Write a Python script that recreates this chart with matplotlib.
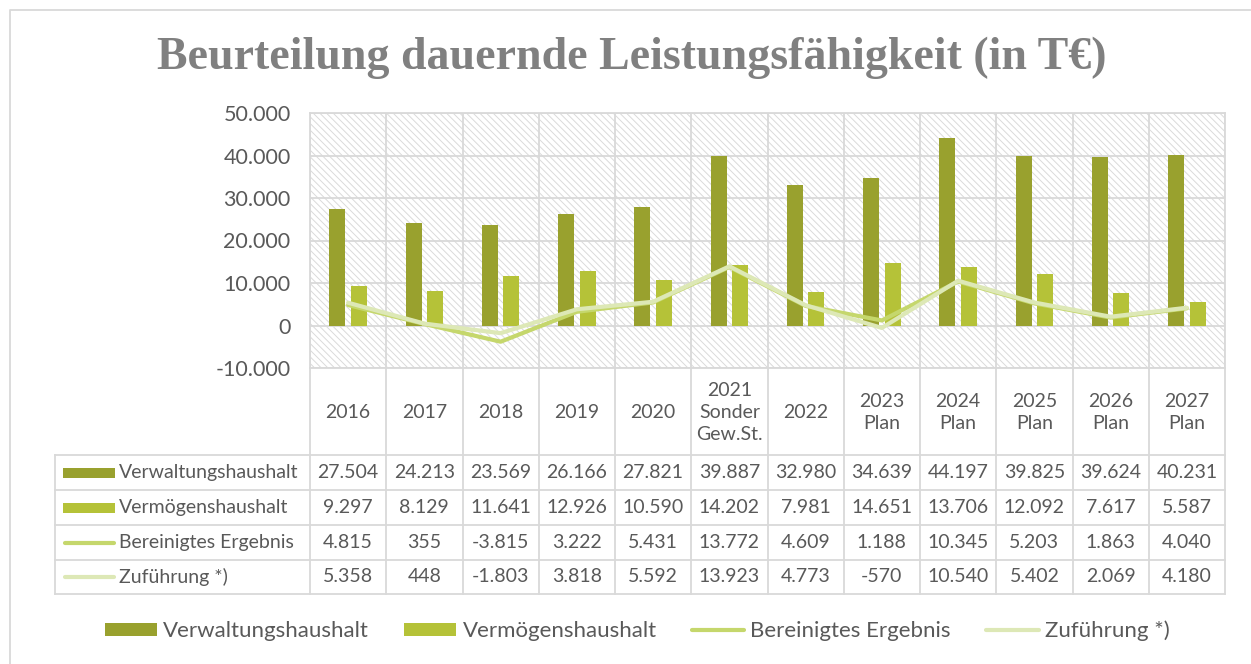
import matplotlib
matplotlib.use("Agg")
import matplotlib.pyplot as plt
from matplotlib.patches import Rectangle
from matplotlib.lines import Line2D

# ---------------- data ----------------
categories = ["2016", "2017", "2018", "2019", "2020", "2021\nSonder\nGew.St.", "2022",
              "2023\nPlan", "2024\nPlan", "2025\nPlan", "2026\nPlan", "2027\nPlan"]
verwaltung = [27504, 24213, 23569, 26166, 27821, 39887, 32980, 34639, 44197, 39825, 39624, 40231]
vermoegen = [9297, 8129, 11641, 12926, 10590, 14202, 7981, 14651, 13706, 12092, 7617, 5587]
bereinigt = [4815, 355, -3815, 3222, 5431, 13772, 4609, 1188, 10345, 5203, 1863, 4040]
zufuehrung = [5358, 448, -1803, 3818, 5592, 13923, 4773, -570, 10540, 5402, 2069, 4180]
series_names = ["Verwaltungshaushalt", "Vermögenshaushalt", "Bereinigtes Ergebnis", "Zuführung *)"]
yticks = [-10000, 0, 10000, 20000, 30000, 40000, 50000]
title = "Beurteilung dauernde Leistungsfähigkeit (in T€)"

# ---------------- style ----------------
C_VERW = "#99A12E"
C_VERM = "#B5C238"
C_BER = "#C5D76C"
C_ZUF = "#DDE8B6"
GRID = "#D9D9D9"
TXT = "#595959"
FONT = "Lato"

plt.rcParams["hatch.linewidth"] = 0.7

W, H = 1251, 664
fig = plt.figure(figsize=(W / 100, H / 100), dpi=100)
fig.patch.set_facecolor("white")


def fx(px):
    return px / W


def fy(py):
    return 1 - py / H


PL, PR, PT, PB = 310, 1225, 113, 368
ax = fig.add_axes([fx(PL), fy(PB), (PR - PL) / W, (PB - PT) / H])
n = len(categories)
x = list(range(n))

ax.set_xlim(-0.5, n - 0.5)
ax.set_ylim(-10000, 50000)

# hatched background
bg = Rectangle((0, 0), 1, 1, transform=ax.transAxes, facecolor="white",
               edgecolor="#DADADA", hatch="\\" * 5, linewidth=0, zorder=0)
ax.add_patch(bg)

# grid
for yt in yticks:
    ax.axhline(yt, color=GRID, lw=1.3, zorder=1)
for i in range(n + 1):
    ax.axvline(i - 0.5, color=GRID, lw=1.3, zorder=1)

bw = 0.21
off = 0.14
ax.bar([v - off for v in x], verwaltung, width=bw, color=C_VERW, zorder=3)
ax.bar([v + off for v in x], vermoegen, width=bw, color=C_VERM, zorder=3)
ax.plot(x, bereinigt, color=C_BER, lw=3.0, zorder=4, solid_capstyle="round")
ax.plot(x, zufuehrung, color=C_ZUF, lw=3.0, zorder=5, solid_capstyle="round")

ax.set_xticks([])
ax.set_yticks(yticks)
ax.set_yticklabels([f"{v:,}".replace(",", ".") for v in yticks], fontsize=15.5,
                   color=TXT, family=FONT)
ax.tick_params(axis="y", length=0, pad=14)
for s in ax.spines.values():
    s.set_color(GRID)
    s.set_linewidth(1.3)

# ---------------- overlay (table, title, border) ----------------
ov = fig.add_axes([0, 0, 1, 1], zorder=10)
ov.set_xlim(0, W)
ov.set_ylim(H, 0)
ov.axis("off")
ov.patch.set_visible(False)

# outer border (left and top)
ov.plot([10, 10, W], [H, 10, 10], color=GRID, lw=1.3)

ov.text(632, 58, title, ha="center", va="center", fontsize=33,
        fontweight="bold", color="#808080", family="Liberation Serif")

col_w = (PR - PL) / n
row_lines = [455, 490, 525, 560, 594]
TL = 55
for ry in row_lines:
    ov.plot([TL, PR], [ry, ry], color=GRID, lw=1.3)
for i in range(n + 1):
    ov.plot([PL + i * col_w] * 2, [PB, row_lines[-1]], color=GRID, lw=1.3)
ov.plot([TL, TL], [row_lines[0], row_lines[-1]], color=GRID, lw=1.3)

# header
for i, c in enumerate(categories):
    ov.text(PL + (i + 0.5) * col_w, (PB + row_lines[0]) / 2 + 1, c, ha="center",
            va="center", fontsize=14, color=TXT, family=FONT, linespacing=1.35)

# data rows
all_series = [verwaltung, vermoegen, bereinigt, zufuehrung]
for r, ser in enumerate(all_series):
    cy = (row_lines[r] + row_lines[r + 1]) / 2
    for i, v in enumerate(ser):
        ov.text(PL + (i + 0.5) * col_w, cy, f"{v:,}".replace(",", "."), ha="center",
                va="center", fontsize=14, color=TXT, family=FONT)
    if r < 2:
        ov.add_patch(Rectangle((63, cy - 5), 52, 10, color=[C_VERW, C_VERM][r], lw=0))
    else:
        ov.plot([65, 114], [cy, cy], color=[C_BER, C_ZUF][r - 2], lw=3.0,
                solid_capstyle="round")
    ov.text(119, cy, series_names[r], ha="left", va="center", fontsize=14,
            color=TXT, family=FONT)

# bottom legend
handles = [Rectangle((0, 0), 1, 1, color=C_VERW, lw=0),
           Rectangle((0, 0), 1, 1, color=C_VERM, lw=0),
           Line2D([0], [0], color=C_BER, lw=3.0, solid_capstyle="round"),
           Line2D([0], [0], color=C_ZUF, lw=3.0, solid_capstyle="round")]
leg = fig.legend(handles, series_names, loc="center", bbox_to_anchor=(fx(637), fy(631)),
                 ncol=4, frameon=False, prop={"family": FONT, "size": 16},
                 handlelength=2.35, handleheight=0.55, handletextpad=0.27,
                 columnspacing=1.6, labelcolor=TXT)

fig.savefig("out.png", dpi=100, facecolor="white")
